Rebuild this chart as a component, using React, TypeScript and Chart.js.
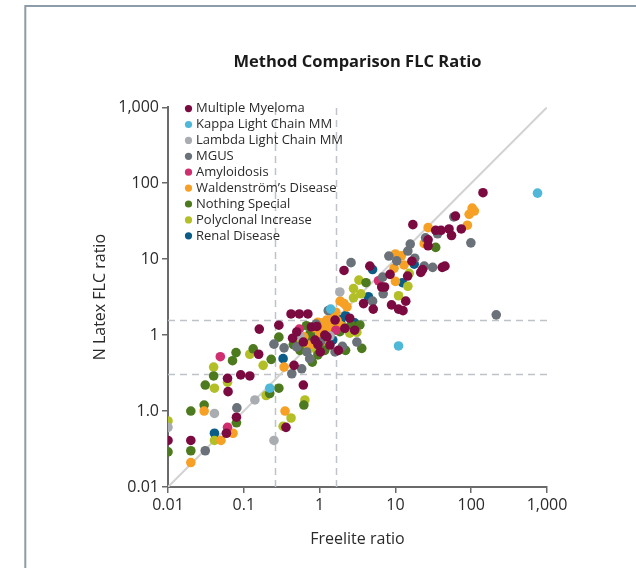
import React, { useEffect, useRef } from "react";
import { Chart, registerables } from "chart.js";

Chart.register(...registerables);

const seriesNames = [
  "Multiple Myeloma",
  "Kappa Light Chain MM",
  "Lambda Light Chain MM",
  "MGUS",
  "Amyloidosis",
  "Waldenström’s Disease",
  "Nothing Special",
  "Polyclonal Increase",
  "Renal Disease",
];

const seriesColors = [
  "#7b0a41",
  "#4fb8d8",
  "#a9adb1",
  "#6b7178",
  "#cf2f6f",
  "#f6a025",
  "#4d7a1f",
  "#b3bf26",
  "#0b5d88",
];

const multipleMyeloma: [number, number][] = [
  [0.01, 0.041], [0.02, 0.041], [0.059, 0.051], [0.08, 0.083], [0.062, 0.18],
  [0.061, 0.27], [0.091, 0.3], [0.12, 0.29], [0.16, 1.2], [0.29, 1.35],
  [0.157, 0.56], [0.42, 1.9], [0.54, 1.9], [0.7, 1.9], [0.44, 0.91],
  [0.46, 0.4], [0.61, 0.22], [0.36, 0.061], [2.1, 7.1],
  [0.78, 1.28], [0.92, 1.3], [2.15, 1.23], [1.77, 0.63], [1.37, 0.74],
  [0.61, 0.81], [0.87, 0.86], [1.02, 0.6], [1.17, 1.0], [1.6, 1.58],
  [2.5, 1.67], [2.9, 1.16], [0.95, 0.75], [0.5, 1.1], [1.25, 0.95],
  [143, 75], [62, 37], [17, 28.5], [74, 25], [51, 25], [34, 24], [40, 24],
  [55, 20.5], [27, 18], [27, 15], [16.5, 9.4], [4.6, 8.1], [41.5, 7.8],
  [45, 8.1], [22.8, 7.3], [21.6, 6.7], [14.5, 6.0], [8.5, 6.3], [6.6, 4.3],
  [7.2, 4.3], [3.8, 2.6], [5.1, 2.2], [8.9, 2.5], [11, 2.2], [12.6, 2.1],
  [13.7, 2.8],
];

const kappaLightChain: [number, number][] = [
  [0.22, 0.2], [1.4, 2.2], [750, 74], [11, 0.72],
];

const lambdaLightChain: [number, number][] = [
  [0.01, 0.061], [0.041, 0.093], [0.14, 0.14], [0.25, 0.041], [1.85, 3.7],
  [0.55, 0.97], [1.37, 0.97],
];

const mgus: [number, number][] = [
  [0.031, 0.03], [0.081, 0.11], [0.25, 0.76], [0.34, 0.68], [0.43, 0.31],
  [2.6, 9.0], [59, 36], [36, 21.6], [25, 19.1], [99, 16.4], [15.7, 15.8],
  [14.6, 12.8], [8.2, 11.0], [10.4, 9.5], [18, 10.3], [24, 8.1], [31, 7.8],
  [6.8, 5.8], [6.9, 3.5], [5.0, 2.8], [214, 1.85], [3.1, 0.81], [0.74, 0.49],
  [0.58, 0.36], [1.02, 0.81], [1.6, 0.6], [1.3, 2.1], [2.0, 0.71],
  [0.9, 1.4], [0.5, 0.7], [0.68, 0.6],
];

const amyloidosis: [number, number][] = [
  [0.061, 0.061], [0.049, 0.52], [0.54, 1.2], [6.0, 5.2], [1.64, 1.16],
];

const waldenstrom: [number, number][] = [
  [0.02, 0.021], [0.03, 0.1], [0.05, 0.041], [0.072, 0.051], [0.34, 0.38],
  [0.35, 0.1], [103, 47], [110, 43], [94, 39], [89, 28], [27, 26], [24, 16],
  [10, 11.7], [12, 11.1], [9.6, 7.6], [13, 8.4], [10, 5.1], [1.24, 1.58],
  [1.07, 1.16], [1.12, 0.91], [1.83, 1.36], [1.87, 2.8], [2.1, 2.6],
  [2.3, 2.35], [0.74, 0.74], [0.95, 1.48], [1.37, 1.36], [1.64, 2.0],
  [1.5, 1.67], [0.85, 1.25], [1.15, 1.3], [1.0, 1.05], [0.62, 0.95],
  [1.45, 1.55], [1.7, 1.55], [1.3, 1.15], [1.1, 1.45],
];

const nothingSpecial: [number, number][] = [
  [0.01, 0.029], [0.02, 0.03], [0.02, 0.1], [0.03, 0.12], [0.031, 0.22],
  [0.04, 0.29], [0.071, 0.46], [0.079, 0.59], [0.133, 0.66], [0.08, 0.07],
  [0.23, 0.48], [0.29, 0.94], [0.22, 0.17], [0.29, 0.2], [0.62, 0.12],
  [34, 14.3], [4.1, 4.9], [0.67, 1.33], [1.85, 1.11], [2.6, 1.36],
  [3.4, 1.36], [2.2, 0.63], [3.6, 0.67], [0.55, 0.63], [0.95, 0.55],
  [0.8, 0.44], [1.17, 0.63], [0.75, 1.05], [1.3, 1.45], [1.55, 1.25],
  [0.45, 0.75], [0.7, 0.85],
];

const polyclonalIncrease: [number, number][] = [
  [0.01, 0.074], [0.041, 0.041], [0.04, 0.38], [0.041, 0.2], [0.061, 0.24],
  [0.12, 0.56], [0.18, 0.4], [0.197, 0.16], [0.42, 0.081], [0.33, 0.063],
  [0.64, 0.14], [15.2, 6.5], [14.6, 4.4], [3.3, 5.3], [2.8, 4.1], [3.5, 3.5],
  [2.8, 3.1], [11, 3.3], [0.61, 0.7], [1.17, 0.83], [2.5, 1.06], [3.1, 1.09],
  [0.9, 0.65], [0.52, 0.78], [2.0, 1.3],
];

const renalDisease: [number, number][] = [
  [0.041, 0.051], [0.33, 0.49], [17.7, 8.6], [5.0, 7.3], [12.4, 4.9],
  [4.4, 3.2], [1.45, 1.23], [1.49, 0.86], [2.2, 1.8], [0.82, 0.94],
  [2.9, 1.45], [1.2, 1.1], [0.7, 0.95], [1.9, 1.6], [1.9, 1.45],
];

const seriesData = [
  multipleMyeloma,
  kappaLightChain,
  lambdaLightChain,
  mgus,
  amyloidosis,
  waldenstrom,
  nothingSpecial,
  polyclonalIncrease,
  renalDisease,
];

const xTickValues = [0.01, 0.1, 1, 10, 100, 1000];
const xTickLabels = ["0.01", "0.1", "1", "10", "100", "1,000"];
const yTickValues = [0.01, 0.1, 1, 10, 100, 1000];
const yTickLabels = ["0.01", "1.0", "1", "10", "100", "1,000"];

const freeliteRange = [0.26, 1.65];
const latexRange = [0.31, 1.56];
const identityLine = [0.01, 1000];

const FONT = '"Open Sans", "Noto Sans", sans-serif';
const AXIS_COLOR = "#6a6a6a";
const TEXT_COLOR = "#2a2a2a";

export default function App() {
  const canvasRef = useRef<HTMLCanvasElement>(null);

  useEffect(() => {
    const canvas = canvasRef.current;
    if (!canvas) return;

    const framePlugin = {
      id: "frame",
      beforeDraw(chart: any) {
        const ctx = chart.ctx;
        ctx.save();
        ctx.fillStyle = "#ffffff";
        ctx.fillRect(0, 0, chart.width, chart.height);
        ctx.strokeStyle = "#8c9ca8";
        ctx.lineWidth = 2;
        ctx.beginPath();
        ctx.moveTo(25.3, chart.height + 2);
        ctx.lineTo(25.3, 6);
        ctx.lineTo(chart.width + 2, 6);
        ctx.stroke();
        ctx.restore();
      },
    };

    const refLinesPlugin = {
      id: "refLines",
      beforeDatasetsDraw(chart: any) {
        const { ctx, chartArea, scales } = chart;
        const xs = scales.x;
        const ys = scales.y;
        ctx.save();
        ctx.strokeStyle = "#bfc3c7";
        ctx.lineWidth = 1.5;
        ctx.setLineDash([7, 5]);
        freeliteRange.forEach((v) => {
          const px = Math.round(xs.getPixelForValue(v)) + 0.5;
          ctx.beginPath();
          ctx.moveTo(px, chartArea.bottom);
          ctx.lineTo(px, chartArea.top - 3);
          ctx.stroke();
        });
        latexRange.forEach((v) => {
          const py = Math.round(ys.getPixelForValue(v)) + 0.5;
          ctx.beginPath();
          ctx.moveTo(chartArea.left, py);
          ctx.lineTo(chartArea.right + 1, py);
          ctx.stroke();
        });
        ctx.restore();
      },
    };

    const legendPlugin = {
      id: "customLegend",
      afterDatasetsDraw(chart: any) {
        const { ctx, chartArea } = chart;
        ctx.save();
        ctx.font = `13px ${FONT}`;
        ctx.textBaseline = "middle";
        ctx.textAlign = "left";
        seriesNames.forEach((name, i) => {
          const cy = chartArea.top + 1.3 + i * 15.9;
          const cx = chartArea.left + 20.5;
          ctx.fillStyle = seriesColors[i];
          ctx.beginPath();
          ctx.arc(cx, cy, 3.6, 0, Math.PI * 2);
          ctx.fill();
          ctx.fillStyle = TEXT_COLOR;
          ctx.fillText(name, cx + 7.5, cy);
        });
        ctx.restore();
      },
    };

    const scatterSets = seriesData.map((d, i) => ({
      type: "scatter" as const,
      label: seriesNames[i],
      data: d.map(([x, y]) => ({ x, y })),
      backgroundColor: seriesColors[i],
      borderColor: seriesColors[i],
      borderWidth: 0,
      pointRadius: 4.8,
      pointHoverRadius: 4.8,
      order: 1,
    }));

    const diagonal = {
      type: "line" as const,
      label: "identity",
      data: identityLine.map((v) => ({ x: v, y: v })),
      borderColor: "#d2d2d2",
      borderWidth: 2,
      pointRadius: 0,
      showLine: true,
      fill: false,
      order: 10,
    };

    const chart = new Chart(canvas, {
      type: "scatter",
      data: { datasets: [diagonal as any, ...scatterSets] },
      options: {
        animation: false,
        responsive: true,
        maintainAspectRatio: false,
        events: [],
        layout: { padding: { top: 0, right: 89, left: 0, bottom: 0 } },
        plugins: {
          legend: { display: false },
          tooltip: { enabled: false },
          title: {
            display: true,
            text: "Method Comparison FLC Ratio",
            fullSize: false,
            color: "#1a1a1a",
            font: { family: FONT, size: 16.5, weight: "bold" },
            padding: { top: 52, bottom: 35.5 },
          },
        },
        scales: {
          x: {
            type: "logarithmic",
            min: 0.01,
            max: 1000,
            afterFit: (s: any) => {
              s.height = 81;
            },
            afterBuildTicks: (s: any) => {
              s.ticks = xTickValues.map((v) => ({ value: v }));
            },
            ticks: {
              autoSkip: false,
              maxRotation: 0,
              padding: 3,
              color: TEXT_COLOR,
              font: { family: FONT, size: 16 },
              callback: (_v: any, i: number) => xTickLabels[i],
            },
            grid: {
              display: true,
              drawOnChartArea: false,
              drawTicks: true,
              tickLength: 6,
              color: AXIS_COLOR,
              lineWidth: 1.5,
            },
            border: { display: true, color: AXIS_COLOR, width: 2 },
            title: {
              display: true,
              text: "Freelite ratio",
              color: TEXT_COLOR,
              font: { family: FONT, size: 16 },
              padding: { top: 0, bottom: 19 },
            },
          },
          y: {
            type: "logarithmic",
            min: 0.01,
            max: 1000,
            afterFit: (s: any) => {
              s.width = 168;
            },
            afterBuildTicks: (s: any) => {
              s.ticks = yTickValues.map((v) => ({ value: v }));
            },
            ticks: {
              autoSkip: false,
              padding: 3,
              color: TEXT_COLOR,
              font: { family: FONT, size: 16 },
              callback: (_v: any, i: number) => yTickLabels[i],
            },
            grid: {
              display: true,
              drawOnChartArea: false,
              drawTicks: true,
              tickLength: 6,
              color: AXIS_COLOR,
              lineWidth: 1.5,
            },
            border: { display: true, color: AXIS_COLOR, width: 2 },
            title: {
              display: true,
              text: "N Latex FLC ratio",
              color: TEXT_COLOR,
              font: { family: FONT, size: 16 },
              padding: { top: 91, bottom: 0 },
            },
          },
        },
      },
      plugins: [framePlugin, refLinesPlugin, legendPlugin],
    } as any);

    return () => {
      chart.destroy();
    };
  }, []);

  return (
    <div style={{ position: "absolute", left: 0, top: 0, width: 636, height: 568 }}>
      <canvas ref={canvasRef} />
    </div>
  );
}
